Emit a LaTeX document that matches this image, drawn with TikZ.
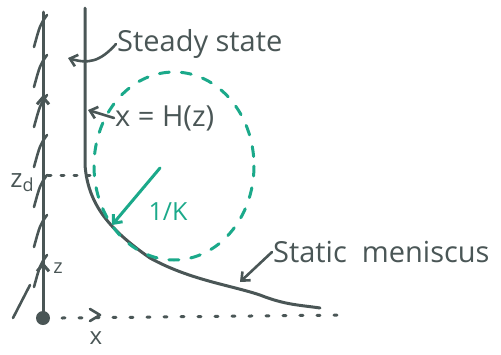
\documentclass[tikz,border=0pt]{standalone}
\usepackage{fontspec}
\setmainfont{Open Sans}
\usetikzlibrary{arrows.meta}
\definecolor{ink}{HTML}{4A5656}
\definecolor{grn}{HTML}{1BA98A}
\begin{document}
\begin{tikzpicture}[x=1pt,y=-1pt,
  pen/.style={draw=ink,line width=3pt,line cap=round,line join=round},
  gpen/.style={draw=grn,line width=3pt,line cap=round},
  lbl/.style={text=ink,font=\fontsize{29}{32}\selectfont,inner sep=1pt},
  glbl/.style={text=grn,font=\fontsize{25}{28}\selectfont,inner sep=1pt},
  tip/.style={-{Straight Barb[length=7pt,width=12pt]}}]
\useasboundingbox (0,0) rectangle (501,354);
% sketchy wall strokes left of axis
\foreach \y in {15,55,95,135,175,215,255}
  \draw[pen,line width=2.6pt] (47,\y) .. controls (40,\y+10) .. (34,\y+32);
\draw[pen,line width=2.6pt] (30,285) -- (13,318);
% z axis
\coordinate (zt) at (43,12);
\coordinate (z0) at (43,318);
\draw[pen] (z0) -- (zt);
\fill[ink] (z0) circle (7);
\draw[pen,tip] (43,115) -- (43,95);
\draw[pen,tip] (43,280) -- (43,262);
\node[lbl,font=\fontsize{20}{22}\selectfont] (zl) at (58,268) {z};
% zd
\node[lbl,font=\fontsize{26}{28}\selectfont] (zd) at (22,183) {z\raisebox{-4pt}{\fontsize{18}{20}\selectfont d}};
\coordinate (zda) at (48,175);
\coordinate (zdb) at (90,175);
\draw[pen,dash pattern=on 3pt off 10pt] (zda) -- (zdb);
% x axis dotted
\coordinate (xa) at (62,318);
\coordinate (xb) at (345,315);
\draw[pen,dash pattern=on 3pt off 14pt] (xa) -- (xb);
\draw[pen,line width=2.6pt] (90,309) -- (100,315) -- (90,321);
\node[lbl,font=\fontsize{24}{26}\selectfont] (xl) at (96,338) {x};
% profile curve
\coordinate (ctop) at (85,8);
\draw[pen] (ctop) -- (85,165) .. controls (88,205) and (110,230) .. (150,258)
  .. controls (190,280) and (230,285) .. (260,295) .. controls (285,305) and (300,305) .. (320,308);
% green dashed osculating circle
\draw[gpen,dash pattern=on 10pt off 12pt] (174,166) ellipse [x radius=80, y radius=94];
% green radius arrow
\coordinate (ra) at (160,168);
\coordinate (rb) at (112,225);
\draw[gpen,tip] (ra) -- (rb);
\node[glbl] (k) at (168,212) {1/K};
% labels with arrows
\node[lbl,anchor=west] (ss) at (116,44) {Steady state};
\coordinate (sst) at (68,58);
\draw[pen,line width=2.6pt,tip] (ss.west) .. controls (100,62) and (88,64) .. (sst);
\node[lbl,anchor=west] (hz) at (114,118) {x = H(z)};
\coordinate (hzt) at (88,110);
\draw[pen,line width=2.6pt,tip] (hz.west) -- (hzt);
\node[lbl,anchor=west] (sm) at (272,252) {Static \ meniscus};
\coordinate (smt) at (240,282);
\draw[pen,line width=2.6pt,tip] (sm.west) -- (smt);
\end{tikzpicture}
\end{document}
